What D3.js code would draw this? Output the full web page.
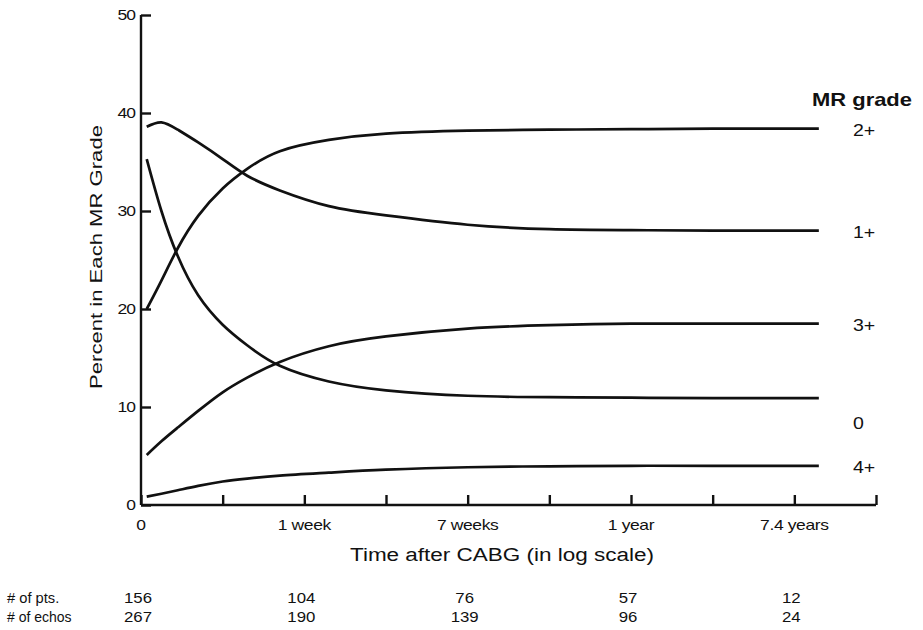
<!DOCTYPE html>
<html>
<head>
<meta charset="utf-8">
<script src="https://cdn.jsdelivr.net/npm/d3@7"></script>
<style>
    body { margin: 0; background: #fff; }
    text { font-family: "Liberation Sans", Arial, sans-serif; fill: #111; }
</style>
</head>
<body>
<div id="container"></div>
<script>
// time positions along the (log) axis, in tick units
const timePos = [0.07, 0.25, 0.45, 0.7, 1.0, 1.3, 1.7, 2.3, 3.0, 4.0, 5.0, 6.0, 7.0, 8.3]

const grade2 = [20.0, 22.9, 26.2, 29.5, 32.3, 34.3, 36.1, 37.25, 37.9, 38.2, 38.3, 38.35, 38.4, 38.4]
const grade1 = [38.6, 39.05, 38.3, 37.0, 35.3, 33.6, 32.1, 30.5, 29.55, 28.6, 28.15, 28.05, 28.0, 28.0]
const grade0 = [35.3, 30.0, 25.4, 21.4, 18.4, 16.3, 14.2, 12.6, 11.7, 11.15, 11.0, 10.95, 10.9, 10.9]
const grade3 = [5.1, 6.5, 7.9, 9.6, 11.5, 13.0, 14.6, 16.2, 17.2, 18.0, 18.35, 18.5, 18.5, 18.5]
const grade4 = [0.85, 1.15, 1.5, 1.95, 2.4, 2.7, 3.0, 3.3, 3.6, 3.85, 3.95, 4.0, 4.0, 4.0]

const gradeNames = ["2+", "1+", "3+", "0", "4+"]
const gradeSeries = [grade2, grade1, grade3, grade0, grade4]

const yTicks = [0, 10, 20, 30, 40, 50]
const xTicks = [0, 1, 2, 3, 4, 5, 6, 7, 8, 9]
const xTickLabels = { 0: "0", 2: "1 week", 4: "7 weeks", 6: "1 year", 8: "7.4 years" }

const tableCols = [0, 2, 4, 6, 8]
const ptsCounts = [156, 104, 76, 57, 12]
const echoCounts = [267, 190, 139, 96, 24]

const width = 923, height = 630
const stretch = 1.25   // the scanned figure is a bit wider than tall

const svg = d3.select('#container')
    .append('svg').attr('width', width).attr('height', height)

const x = d3.scaleLinear().domain([0, 9]).range([141, 876])
const y = d3.scaleLinear().domain([0, 50]).range([505, 15])

const addText = (px, py, str, size, opts = {}) => {
    const sx = opts.sx || stretch
    const rot = opts.rotate ? ' rotate(' + opts.rotate + ')' : ''
    return svg.append('text')
        .attr('transform', 'translate(' + px + ',' + py + ')' + rot + ' scale(' + sx + ',1)')
        .attr('text-anchor', opts.anchor || 'start')
        .attr('font-size', size)
        .attr('font-weight', opts.weight || 'normal')
        .attr('letter-spacing', opts.spacing || 0)
        .text(str)
}

// y axis
const yAxis = svg.append('g').attr('transform', 'translate(' + x(0) + ',0)')
    .call(d3.axisRight(y).tickValues(yTicks).tickSize(10).tickFormat(''))
yAxis.select('.domain').attr('stroke', '#111').attr('stroke-width', 2.4).attr('d', 'M0,' + y(50) + 'V' + y(0))
yAxis.selectAll('.tick line').attr('stroke', '#111').attr('stroke-width', 2.4)
yTicks.forEach(d => addText(135, y(d) + 5, d, 14, { anchor: 'end', spacing: -0.8 }))

// x axis
const xAxis = svg.append('g').attr('transform', 'translate(0,' + y(0) + ')')
    .call(d3.axisTop(x).tickValues(xTicks).tickSize(10).tickFormat(''))
xAxis.select('.domain').attr('stroke', '#111').attr('stroke-width', 2.4).attr('d', 'M' + x(0) + ',0H' + x(9))
xAxis.selectAll('.tick line').attr('stroke', '#111').attr('stroke-width', 2.4)
Object.keys(xTickLabels).forEach(k => addText(x(+k), 530, xTickLabels[k], 14, { anchor: 'middle', spacing: -0.3 }))

// curves
const line = d3.line()
    .x((d, i) => x(timePos[i]))
    .y(d => y(d))
    .curve(d3.curveNatural)

svg.selectAll('.curve').data(gradeSeries).enter().append('path')
    .attr('class', 'curve')
    .attr('d', d => line(d))
    .attr('fill', 'none')
    .attr('stroke', '#111')
    .attr('stroke-width', 2.7)

// grade labels at the right
const labelShift = { "0": 24 }
gradeSeries.forEach((d, i) => {
    addText(853, y(d[d.length - 1]) + 7 + (labelShift[gradeNames[i]] || 0), gradeNames[i], 17, { sx: 1.15 })
})
addText(812, 106, 'MR grade', 18, { weight: 'bold', sx: 1.22 })

// axis titles
addText(502, 561, 'Time after CABG (in log scale)', 18, { anchor: 'middle' })
addText(102, 257, 'Percent in Each MR Grade', 17, { anchor: 'middle', rotate: -90, sx: 1.3 })

// counts table
addText(7, 603, '# of pts.', 14, { sx: 1.05 })
addText(7, 622, '# of echos', 14, { sx: 1.0 })
ptsCounts.forEach((d, i) => addText(x(tableCols[i]) - 3, 603, d, 14, { anchor: 'middle', sx: 1.2 }))
echoCounts.forEach((d, i) => addText(x(tableCols[i]) - 3, 622, d, 14, { anchor: 'middle', sx: 1.2 }))
</script>
</body>
</html>
